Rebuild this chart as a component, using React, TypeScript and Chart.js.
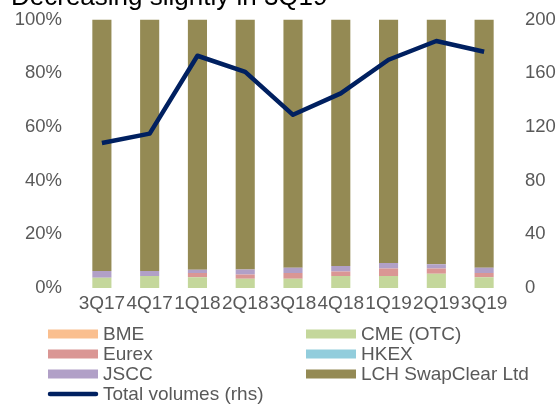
import React, { useEffect, useRef } from 'react';
import { Chart, registerables } from 'chart.js';

Chart.register(...registerables);

const titleText = 'Decreasing slightly in 3Q19';
const categories = ['3Q17', '4Q17', '1Q18', '2Q18', '3Q18', '4Q18', '1Q19', '2Q19', '3Q19'];
const bme = [0, 0, 0, 0, 0, 0, 0, 0, 0];
const cme = [3.8, 4.5, 4.0, 3.4, 3.4, 4.5, 4.5, 5.3, 4.0];
const eurex = [0, 0, 1.6, 1.6, 2.2, 1.6, 2.8, 2.0, 1.6];
const hkex = [0, 0, 0, 0, 0, 0, 0, 0, 0];
const jscc = [2.5, 1.8, 1.2, 1.9, 1.9, 2.1, 2.0, 1.5, 1.9];
const lch = [93.7, 93.7, 93.2, 93.1, 92.5, 91.8, 90.7, 91.2, 92.5];
const totalVolumes = [108, 115, 173, 161, 129, 145, 170, 184, 176];
const leftTicks = [0, 20, 40, 60, 80, 100];
const rightTicks = [0, 40, 80, 120, 160, 200];

const FONT = '"Liberation Sans", Arial, sans-serif';
const GREY = '#595959';

const titlePlugin = {
  id: 'cutTitle',
  afterDraw(chart: any) {
    const ctx = chart.ctx;
    ctx.save();
    ctx.font = `26px ${FONT}`;
    ctx.fillStyle = '#000000';
    ctx.textBaseline = 'alphabetic';
    ctx.textAlign = 'left';
    ctx.fillText(titleText, 11, 5);
    ctx.restore();
  },
};

const legendPlugin = {
  id: 'gridLegend',
  afterDraw(chart: any) {
    const ctx = chart.ctx;
    const ds = chart.data.datasets;
    ctx.save();
    ctx.font = `19px ${FONT}`;
    ctx.textBaseline = 'middle';
    ctx.textAlign = 'left';
    ds.forEach((d: any, i: number) => {
      const col = i % 2;
      const row = Math.floor(i / 2);
      const sx = col ? 306 : 48;
      const tx = col ? 361 : 103;
      const y = 334 + row * 20;
      if (d.type === 'line') {
        ctx.strokeStyle = d.borderColor;
        ctx.lineWidth = 4.5;
        ctx.lineCap = 'round';
        ctx.beginPath();
        ctx.moveTo(sx + 2, y);
        ctx.lineTo(sx + 48, y);
        ctx.stroke();
      } else {
        ctx.fillStyle = d.backgroundColor;
        ctx.fillRect(sx, y - 4.5, 50, 9);
      }
      ctx.fillStyle = GREY;
      ctx.fillText(d.label, tx, y + 1);
    });
    ctx.restore();
  },
};

function barSet(label: string, data: number[], color: string) {
  return {
    type: 'bar' as const,
    label,
    data,
    backgroundColor: color,
    borderWidth: 0,
    yAxisID: 'y',
    stack: 'share',
    order: 1,
    barPercentage: 0.4,
    categoryPercentage: 1,
  };
}

export default function App() {
  const ref = useRef<HTMLCanvasElement | null>(null);

  useEffect(() => {
    document.body.style.margin = '0';
    if (!ref.current) return;
    const chart = new Chart(ref.current, {
      data: {
        labels: categories,
        datasets: [
          barSet('BME', bme, '#FABF8F'),
          barSet('CME (OTC)', cme, '#C4D79B'),
          barSet('Eurex', eurex, '#DA9694'),
          barSet('HKEX', hkex, '#92CDDC'),
          barSet('JSCC', jscc, '#B1A0C7'),
          barSet('LCH SwapClear Ltd', lch, '#948A54'),
          {
            type: 'line' as const,
            label: 'Total volumes (rhs)',
            data: totalVolumes,
            borderColor: '#002060',
            backgroundColor: '#002060',
            borderWidth: 4.5,
            pointRadius: 0,
            tension: 0,
            fill: false,
            yAxisID: 'y1',
            order: 0,
            borderJoinStyle: 'round',
          },
        ] as any,
      },
      options: {
        responsive: false,
        animation: false,
        layout: { padding: { top: 19.5, left: 0, right: 0, bottom: 0 } },
        plugins: {
          legend: { display: false },
          tooltip: { enabled: false },
          title: { display: false },
        },
        scales: {
          x: {
            stacked: true,
            grid: { display: false, drawTicks: false },
            border: { display: false },
            ticks: {
              color: GREY,
              font: { family: FONT, size: 19 },
              padding: 4,
              maxRotation: 0,
              autoSkip: false,
            },
            afterFit: (s: any) => {
              s.height = 117;
              s.paddingLeft = 0;
              s.paddingRight = 0;
            },
          },
          y: {
            stacked: true,
            position: 'left',
            min: 0,
            max: 100,
            grid: { display: false, drawTicks: false },
            border: { display: false },
            ticks: {
              color: GREY,
              font: { family: FONT, size: 18.5 },
              padding: 16,
              callback: (v: any) => `${v}%`,
            },
            afterBuildTicks: (s: any) => {
              s.ticks = leftTicks.map((v) => ({ value: v }));
            },
            afterFit: (s: any) => {
              s.width = 78;
              s.paddingTop = 0;
              s.paddingBottom = 0;
            },
          },
          y1: {
            position: 'right',
            min: 0,
            max: 200,
            grid: { display: false, drawTicks: false },
            border: { display: false },
            ticks: {
              color: GREY,
              font: { family: FONT, size: 18.5 },
              padding: 17,
            },
            afterBuildTicks: (s: any) => {
              s.ticks = rightTicks.map((v) => ({ value: v }));
            },
            afterFit: (s: any) => {
              s.width = 50;
              s.paddingTop = 0;
              s.paddingBottom = 0;
            },
          },
        },
      } as any,
      plugins: [titlePlugin, legendPlugin],
    });
    return () => chart.destroy();
  }, []);

  return (
    <div style={{ width: 558, height: 405 }}>
      <canvas ref={ref} width={558} height={405} style={{ display: 'block' }} />
    </div>
  );
}
